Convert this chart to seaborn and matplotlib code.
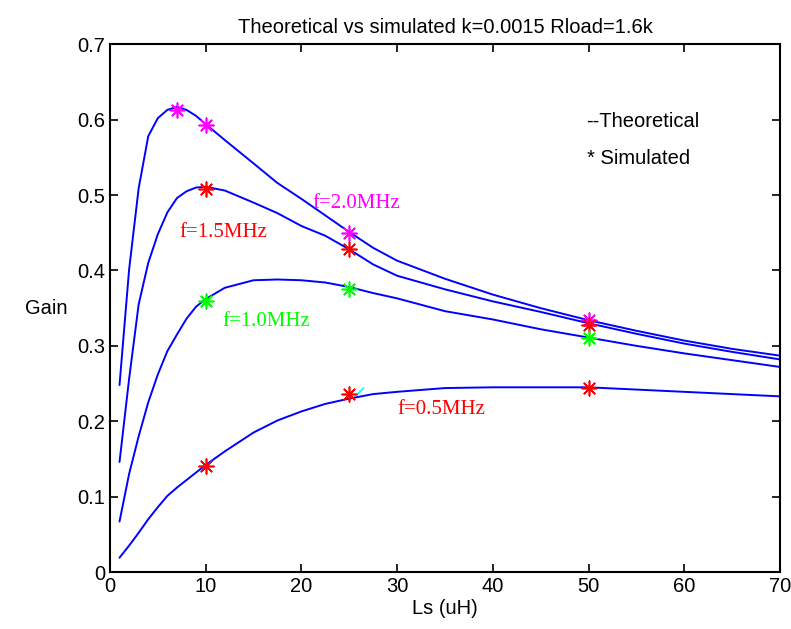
import numpy as np
import pandas as pd
import matplotlib
matplotlib.use("Agg")
import matplotlib.pyplot as plt
import seaborn as sns

# Ls (uH) grid for the theoretical curves
ls = [1, 2, 3, 4, 5, 6, 7, 8, 9, 10, 12, 15, 17.5, 20, 22.5, 25, 27.5, 30,
      35, 40, 45, 50, 55, 60, 65, 70]

gain_2_0 = [0.248, 0.401, 0.509, 0.578, 0.602, 0.613, 0.617, 0.613, 0.605, 0.594,
            0.573, 0.542, 0.516, 0.495, 0.473, 0.451, 0.430, 0.413, 0.389, 0.368,
            0.350, 0.334, 0.320, 0.307, 0.296, 0.287]
gain_1_5 = [0.146, 0.256, 0.355, 0.410, 0.448, 0.477, 0.496, 0.505, 0.510, 0.511,
            0.506, 0.490, 0.476, 0.459, 0.446, 0.428, 0.408, 0.393, 0.375, 0.359,
            0.345, 0.330, 0.316, 0.303, 0.292, 0.282]
gain_1_0 = [0.067, 0.130, 0.180, 0.225, 0.262, 0.293, 0.315, 0.336, 0.352, 0.362,
            0.377, 0.387, 0.388, 0.387, 0.384, 0.378, 0.370, 0.363, 0.346, 0.335,
            0.322, 0.311, 0.300, 0.290, 0.281, 0.272]
gain_0_5 = [0.019, 0.035, 0.052, 0.070, 0.086, 0.101, 0.112, 0.122, 0.132, 0.142,
            0.160, 0.185, 0.201, 0.213, 0.223, 0.230, 0.236, 0.239, 0.244, 0.245,
            0.245, 0.245, 0.242, 0.239, 0.236, 0.233]

# simulated points
sim_ls_2_0 = [7, 10, 25, 50]
sim_2_0 = [0.613, 0.593, 0.450, 0.334]
sim_ls = [10, 25, 50]
sim_1_5 = [0.508, 0.428, 0.328]
sim_1_0 = [0.360, 0.376, 0.310]
sim_0_5 = [0.141, 0.236, 0.244]

# the little cyan stroke next to the 25 uH point
cyan_x = [25.8, 26.5]
cyan_y = [0.235, 0.244]

curves = {"2.0": gain_2_0, "1.5": gain_1_5, "1.0": gain_1_0, "0.5": gain_0_5}
df = pd.concat([pd.DataFrame({"Ls": ls, "Gain": g, "f": k}) for k, g in curves.items()])

sns.set_style("ticks")
plt.rcParams["font.family"] = ["Liberation Sans", "DejaVu Sans"]
for key in ["text.color", "axes.labelcolor", "xtick.color", "ytick.color", "axes.edgecolor"]:
    plt.rcParams[key] = "black"

fig = plt.figure(figsize=(7.91, 6.29), dpi=100)
ax = fig.add_axes([0.139, 0.0906, 0.847, 0.839])

sns.lineplot(data=df, x="Ls", y="Gain", units="f", estimator=None,
             color="#0000ff", lw=1.4, ax=ax, sort=False)

star = (8, 2, 0)
sns.scatterplot(x=sim_ls_2_0, y=sim_2_0, marker=star, color="#ff00ff", s=110,
                linewidth=1.2, edgecolor="#ff00ff", ax=ax, zorder=3)
for yy, c in [(sim_1_5, "#ff0000"), (sim_1_0, "#00ff00"), (sim_0_5, "#ff0000")]:
    sns.scatterplot(x=sim_ls, y=yy, marker=star, color=c, s=110,
                    linewidth=1.2, edgecolor=c, ax=ax, zorder=3)
ax.plot(cyan_x, cyan_y, color="#00ffff", lw=1.2)

serif = ["Liberation Serif", "DejaVu Serif"]
ax.text(21.2, 0.489, "f=2.0MHz", color="#ff00ff", fontsize=15, family=serif, va="center")
ax.text(7.3, 0.45, "f=1.5MHz", color="#ff0000", fontsize=15, family=serif, va="center")
ax.text(11.7, 0.332, "f=1.0MHz", color="#00ff00", fontsize=15, family=serif, va="center")
ax.text(30.0, 0.215, "f=0.5MHz", color="#ff0000", fontsize=15, family=serif, va="center")

ax.text(49.7, 0.598, "--Theoretical", fontsize=14.5, va="center")
ax.text(49.8, 0.549, "* Simulated", fontsize=14.5, va="center")

ax.set_xlim(0, 70)
ax.set_ylim(0, 0.7)
ax.set_xticks(range(0, 71, 10))
ax.set_yticks(np.arange(0, 0.71, 0.1))
ax.set_yticklabels(["0", "0.1", "0.2", "0.3", "0.4", "0.5", "0.6", "0.7"])
ax.tick_params(direction="in", top=True, right=True, length=6, width=1.2, labelsize=14.5)
for sp in ax.spines.values():
    sp.set_linewidth(1.5)
    sp.set_visible(True)

ax.set_xlabel("Ls (uH)", fontsize=14.5, labelpad=2)
ax.set_ylabel("Gain", fontsize=14.5, rotation=0, labelpad=22, va="center")
ax.set_title("Theoretical vs simulated k=0.0015 Rload=1.6k", fontsize=14.5, pad=8)

fig.savefig("out.png", dpi=100)
